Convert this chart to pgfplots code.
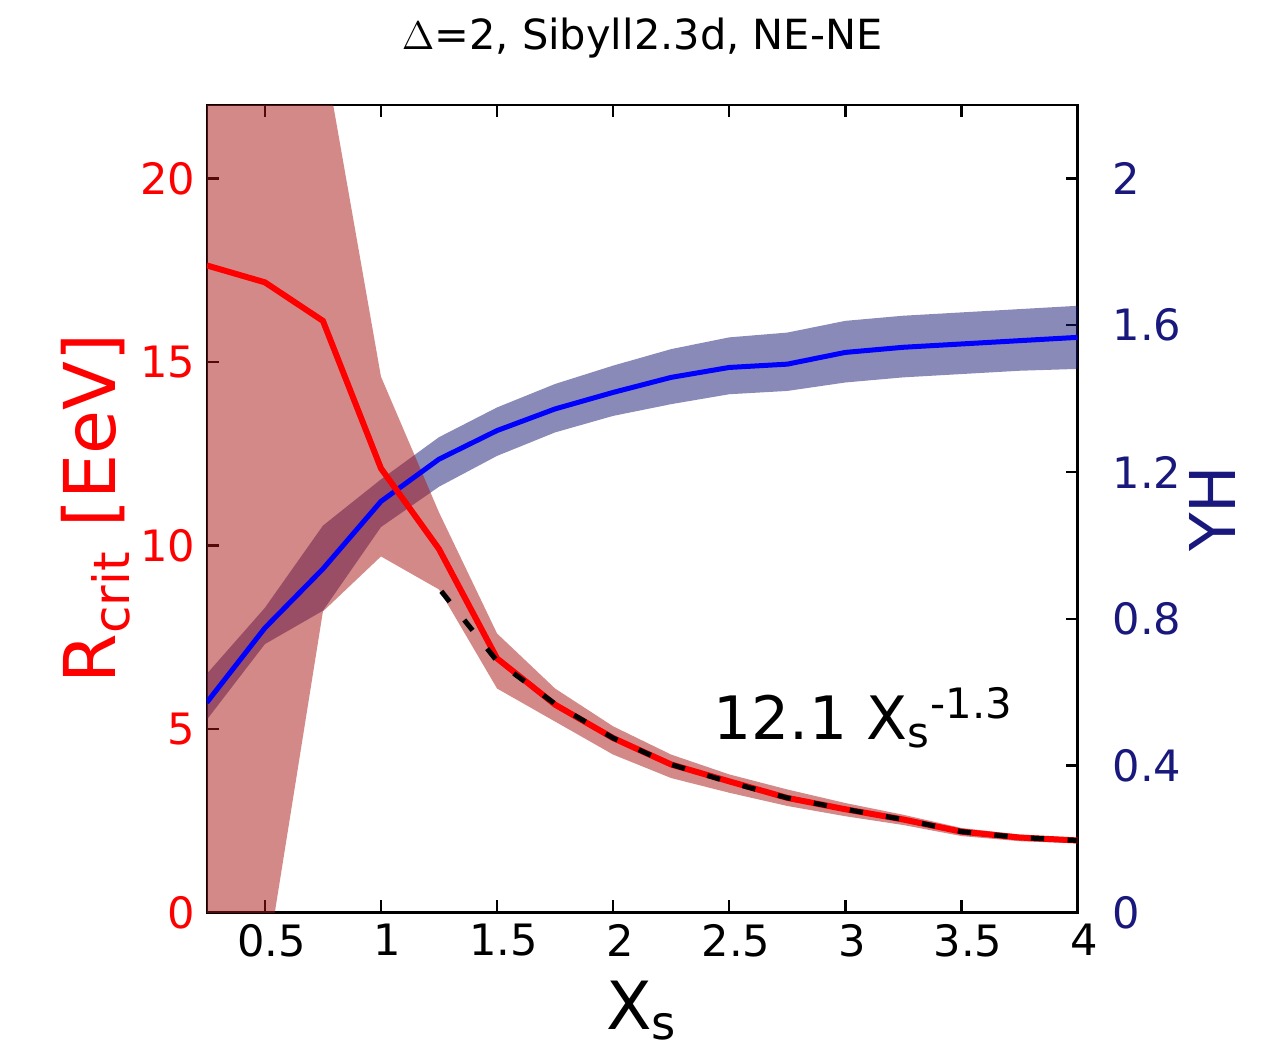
\documentclass[border=0pt]{standalone}
\usepackage{fontspec}
\setmainfont{DejaVu Sans}
\usepackage{pgfplots}
\usepackage{pgfplotstable}
\pgfplotsset{compat=1.18}
\usepgfplotslibrary{fillbetween}
\definecolor{bandred}{RGB}{170,20,20}
\definecolor{bandblue}{RGB}{21,21,115}
\definecolor{navy}{RGB}{25,25,125}

% R_crit [EeV]: central value, lower and upper edge of the band
\pgfplotstableread{
x     r      lo     hi
0.25  17.63  -5.0   30.0
0.50  17.17  -1.7   30.0
0.75  16.12   8.2   23.6
1.00  12.10   9.7   14.6
1.25   9.90   8.8   10.9
1.50   6.92   6.1    7.6
1.75   5.66   5.2    6.1
2.00   4.75   4.3    5.07
2.25   4.03   3.66   4.3
2.50   3.57   3.26   3.76
2.75   3.12   2.90   3.35
3.00   2.81   2.62   2.98
3.25   2.53   2.38   2.66
3.50   2.20   2.08   2.30
3.75   2.04   1.94   2.12
4.00   1.96   1.88   2.03
}\rcrit

% fit 12.1 Xs^-1.3 as drawn
\pgfplotstableread{
x     f
1.26  8.75
1.50  6.85
1.75  5.68
2.00  4.75
2.25  4.03
2.50  3.55
2.75  3.12
3.00  2.81
3.25  2.53
3.50  2.20
3.75  2.04
4.00  1.96
}\fit

% YH: central value, lower and upper edge of the band
\pgfplotstableread{
x     y      lo     hi
0.25  0.572  0.525  0.650
0.50  0.775  0.731  0.830
0.75  0.936  0.822  1.054
1.00  1.120  1.050  1.180
1.25  1.235  1.160  1.295
1.50  1.313  1.244  1.376
1.75  1.372  1.308  1.440
2.00  1.417  1.353  1.490
2.25  1.458  1.385  1.535
2.50  1.485  1.412  1.567
2.75  1.494  1.421  1.580
3.00  1.526  1.444  1.612
3.25  1.540  1.458  1.626
3.50  1.549  1.467  1.635
3.75  1.558  1.476  1.644
4.00  1.567  1.481  1.653
}\yh

\pgfplotsset{
  every axis/.append style={
    scale only axis, width=261bp, height=242bp,
    xmin=0.25, xmax=4,
    tick align=inside, major tick length=3.6bp,
    axis line style={line width=0.7bp},
    every tick/.style={black, line width=0.7bp},
    ticklabel style={font=\fontsize{13}{15}\selectfont},
    /pgf/number format/assume math mode=true,
  },
}

\begin{document}
\begin{tikzpicture}
\begin{axis}[
  axis x line=none, axis y line*=right,
  ymin=0, ymax=2.2,
  ytick={0,0.4,0.8,1.2,1.6,2},
  yticklabel style={text=navy, xshift=7bp},
  ylabel={YH},
  ylabel style={at={(axis description cs:1.155,0.5)}, anchor=center,
    text=navy, font=\fontsize{19}{21}\selectfont},
]
\addplot[name path=ylo, draw=none] table[x=x, y=lo] {\yh};
\addplot[name path=yhi, draw=none] table[x=x, y=hi] {\yh};
\addplot[bandblue, fill opacity=0.5, draw=none] fill between[of=yhi and ylo];
\addplot[blue, line width=1.5bp] table[x=x, y=y] {\yh};
\end{axis}

\begin{axis}[
  ymin=0, ymax=22,
  xtick={0.5,1,1.5,2,2.5,3,3.5,4},
  ytick={0,5,10,15,20},
  xtick pos=both, xticklabel pos=bottom, ytick pos=left,
  xticklabel style={xshift=2bp},
  yticklabel style={text=red},
  title={$\Delta$=2, Sibyll2.3d, NE-NE},
  title style={at={(axis description cs:0.5,1)}, anchor=center, yshift=14bp,
    font=\fontsize{12.5}{15}\selectfont},
  xlabel={X\textsubscript{s}},
  xlabel style={at={(axis description cs:0.5,0)}, anchor=center, yshift=-29.5bp,
    font=\fontsize{20}{22}\selectfont},
  ylabel={R\textsubscript{crit} [EeV]},
  ylabel style={at={(axis description cs:-0.128,0.5)}, anchor=center,
    text=red, font=\fontsize{21.5}{24}\selectfont},
]
\addplot[name path=rlo, draw=none] table[x=x, y=lo] {\rcrit};
\addplot[name path=rhi, draw=none] table[x=x, y=hi] {\rcrit};
\addplot[bandred, fill opacity=0.5, draw=none] fill between[of=rhi and rlo];
\addplot[red, line width=1.8bp] table[x=x, y=r] {\rcrit};
\addplot[black, line width=1.5bp, dash pattern=on 4bp off 7bp] table[x=x, y=f] {\fit};
\node[font=\fontsize{18}{20}\selectfont] at (axis cs:3.08,5.3)
  {12.1 X\textsubscript{s}\textsuperscript{-1.3}};
\end{axis}
\pgfresetboundingbox
\useasboundingbox (-62bp,-40.5bp) rectangle (322bp,273.5bp);
\end{tikzpicture}
\end{document}
